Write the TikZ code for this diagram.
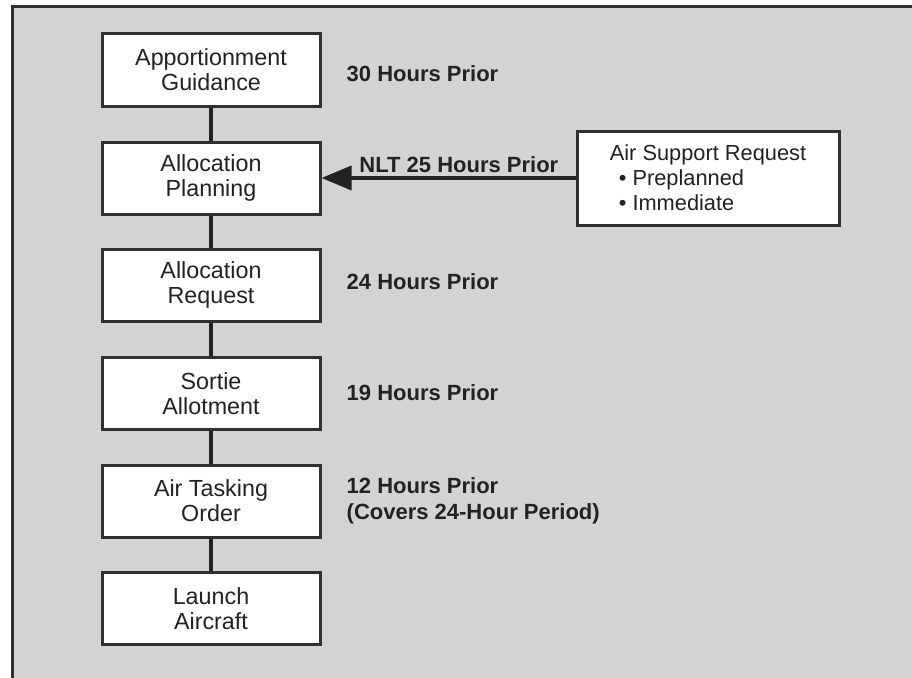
\documentclass[tikz,border=0pt]{standalone}
\usepackage{fontspec}
\setmainfont{Liberation Sans}
\usetikzlibrary{arrows.meta,calc}
\definecolor{bg}{RGB}{211,211,211}
\definecolor{ink}{RGB}{34,34,34}
\definecolor{edge}{RGB}{48,48,48}
\begin{document}
\begin{tikzpicture}[x=1pt,y=-1pt,
  stepbox/.style={draw=edge, line width=3pt, fill=white, minimum width=218pt, minimum height=72pt, align=center, font=\fontsize{23.3}{25}\selectfont, text=ink, inner sep=0pt},
  lbl/.style={align=left, font=\fontsize{22}{26}\selectfont\bfseries, text=ink, inner sep=0pt},
  link/.style={line width=4.5pt, draw=ink}]
\useasboundingbox (0,0) rectangle (912,677);
\begin{scope}
  \clip (0,0) rectangle (912,677);
  \draw[line width=3pt, draw=edge, fill=bg] (12.5,6.5) rectangle (930,700);
\end{scope}
\node[stepbox] (b1) at (211,70) {Apportionment\\Guidance};
\node[stepbox] (b2) at (211,178) {Allocation\\Planning};
\node[stepbox] (b3) at (211,285) {Allocation\\Request};
\node[stepbox] (b4) at (211,393.5) {Sortie\\Allotment};
\node[stepbox] (b5) at (211,501) {Air Tasking\\Order};
\node[stepbox] (b6) at (211,608.5) {Launch\\Aircraft};
\draw[link] (b1.south) -- (b2.north);
\draw[link] (b2.south) -- (b3.north);
\draw[link] (b3.south) -- (b4.north);
\draw[link] (b4.south) -- (b5.north);
\draw[link] (b5.south) -- (b6.north);
\node[lbl, anchor=west] (l1) at ($(b1.east)+(25,4)$) {30 Hours Prior};
\node[lbl, anchor=west] (l3) at ($(b3.east)+(25,-3)$) {24 Hours Prior};
\node[lbl, anchor=west] (l4) at ($(b4.east)+(25,-1)$) {19 Hours Prior};
\node[lbl, anchor=west] (l5) at ($(b5.east)+(25,0)$) {12 Hours Prior\\(Covers 24-Hour Period)};
\node[draw=edge, line width=3pt, fill=white, minimum width=262pt, minimum height=94pt, inner sep=0pt,
  align=left, font=\fontsize{21.8}{25}\selectfont, text=ink] (asr) at (708,178)
  {Air Support Request\\\hspace*{9pt}\textbullet\ Preplanned\\\hspace*{9pt}\textbullet\ Immediate};
\draw[link, line width=3.5pt, -{Triangle[length=30pt,width=24pt]}] (asr.west) -- (b2.east);
\node[lbl, anchor=base east] (nlt) at ($(asr.west)+(-17,-6)$) {NLT 25 Hours Prior};
\end{tikzpicture}
\end{document}
